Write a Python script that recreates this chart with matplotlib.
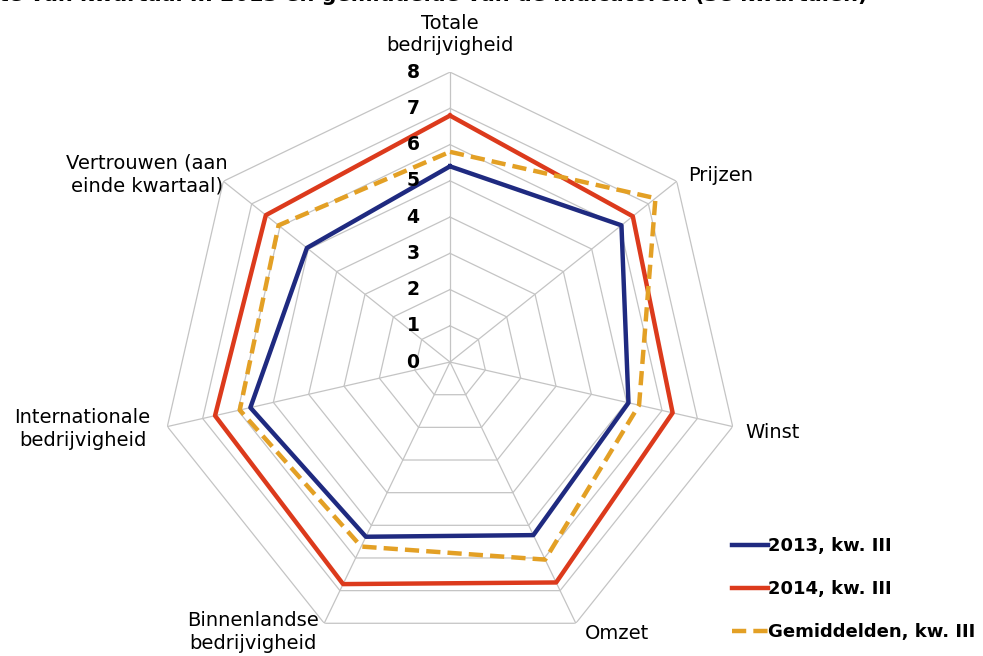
import numpy as np
import matplotlib
matplotlib.use("Agg")
import matplotlib.pyplot as plt

categories = ["Totale\nbedrijvigheid", "Prijzen", "Winst", "Omzet",
              "Binnenlandse\nbedrijvigheid", "Internationale\nbedrijvigheid",
              "Vertrouwen (aan\neinde kwartaal)"]
q3_2013 = [5.4, 6.05, 5.05, 5.3, 5.35, 5.65, 5.05]
q3_2014 = [6.8, 6.45, 6.3, 6.75, 6.8, 6.65, 6.5]
avg_q3 = [5.8, 7.25, 5.35, 6.05, 5.65, 5.95, 6.05]
series_names = ["2013, kw. III", "2014, kw. III", "Gemiddelden, kw. III"]
rings = [0, 1, 2, 3, 4, 5, 6, 7, 8]
title = ("Kwartaal III 2014 ten opzichte van kwartaal III 2013 en "
         "gemiddelde van de indicatoren (3e kwartalen)")

n = len(categories)
theta = np.linspace(0, 2 * np.pi, n, endpoint=False)
theta_c = np.append(theta, theta[0])

def closed(vals):
    return np.append(vals, vals[0])

fig = plt.figure(figsize=(9.83, 6.56), dpi=100)
ax = fig.add_axes([0.1628, 0.0061, 0.59, 0.884], projection="polar")
ax.set_theta_offset(np.pi / 2)
ax.set_theta_direction(-1)
ax.set_ylim(0, 8)
ax.grid(False)
ax.spines["polar"].set_visible(False)
ax.set_xticks([])
ax.set_yticks([])
ax.patch.set_alpha(0)

grid_col = "#c4c4c4"
for r in rings[1:]:
    ax.plot(theta_c, [r] * (n + 1), color=grid_col, lw=0.9, zorder=1)
for t in theta:
    ax.plot([t, t], [0, rings[-1]], color=grid_col, lw=0.9, zorder=1)

ax.plot(theta_c, closed(q3_2013), color="#1f2a80", lw=3.2, label=series_names[0], zorder=3)
ax.plot(theta_c, closed(q3_2014), color="#dc3a1c", lw=3.2, label=series_names[1], zorder=3)
ax.plot(theta_c, closed(avg_q3), color="#e3a025", lw=3.2, dashes=(3.2, 1.6),
        label=series_names[2], zorder=4)

for r in rings:
    ax.annotate(str(r), xy=(0, r), xytext=(-22, 0), textcoords="offset points",
                ha="right", va="center", fontsize=13.5, fontweight="bold", zorder=5)

# label offsets in points, relative to the outer ring vertex
label_pos = [((0, 12), "center", "bottom"),
             ((8, 4), "left", "center"),
             ((9, -4), "left", "center"),
             ((6.5, -7), "left", "center"),
             ((-4, -6.5), "right", "center"),
             ((-12, -1.5), "right", "center"),
             ((3, 5), "right", "center")]
for t, lab, (off, ha, va) in zip(theta, categories, label_pos):
    ax.annotate(lab, xy=(t, rings[-1]), xytext=off, textcoords="offset points",
                ha=ha, va=va, multialignment="center", fontsize=14,
                linespacing=1.25, annotation_clip=False)

fig.legend(loc="upper left", bbox_to_anchor=(0.737, 0.192), frameon=False,
           prop={"weight": "bold", "size": 13}, handlelength=2.0,
           handletextpad=0.0, labelspacing=1.38, borderaxespad=0)

fig.text(0.883, 1 - 1 / 656, title, ha="right", va="baseline",
         fontsize=15, fontweight="bold")

fig.savefig("out.png", dpi=100)
